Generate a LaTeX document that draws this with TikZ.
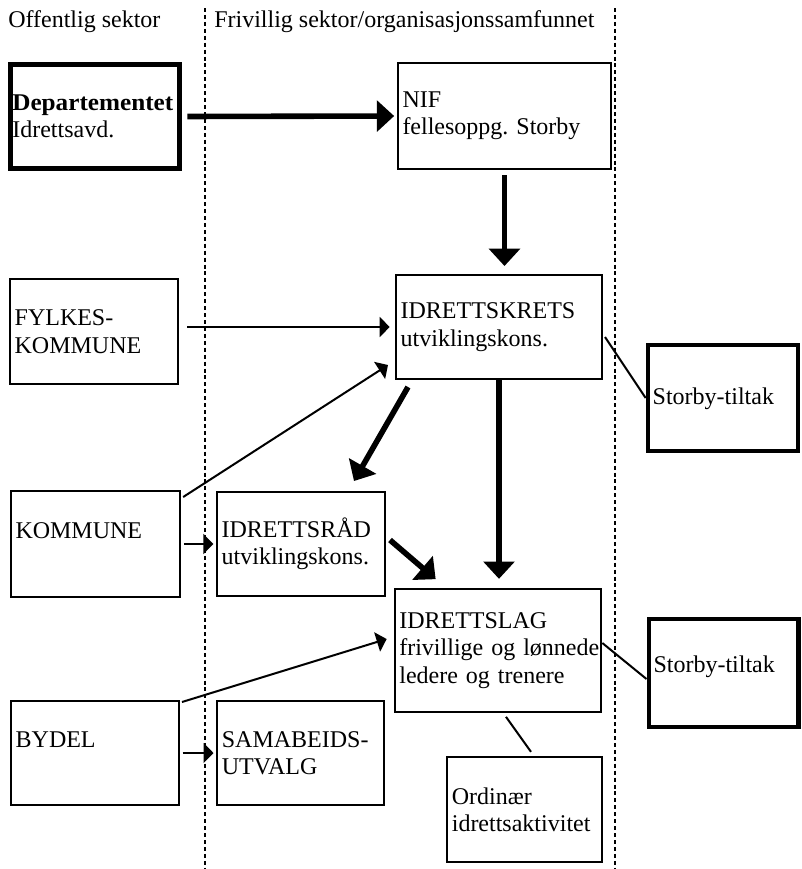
\documentclass[tikz,border=0pt]{standalone}
\usepackage{fontspec}
\setmainfont{Liberation Serif}
\usepackage{tikz}
\usetikzlibrary{positioning,%
  arrows.meta,%
  calc
}
\frenchspacing

\begin{document}
\begin{tikzpicture}
            [x=0.75pt,y=-0.75pt,
             every node/.style={font=\fontsize{18}{20.5}\selectfont},
             box/.style={draw,line width=1.5pt,align=left,inner xsep=3.5pt,inner ysep=0pt},
             heavybox/.style={box,line width=3.5pt},
             thinarrow/.style={line width=1.5pt,-{Triangle[length=7.5pt,width=15pt]}},
             thickarrow/.style={line width=4.2pt,-{Triangle[length=13pt,width=23pt]}},
             tie/.style={line width=1.5pt},
             sectorline/.style={line width=1.7pt,dash pattern=on 3pt off 2.2pt}]

            \useasboundingbox (0,0) rectangle (802,869);

            \foreach \sx in {205,615} {
                \draw[sectorline] (\sx,8) -- (\sx,869);
            }
            \node[anchor=west,inner sep=0pt] (offentlig) at (8,22) {Offentlig sektor};
            \node[anchor=west,inner sep=0pt] (frivillig) at (214,22) {Frivillig sektor/organisasjonssamfunnet};

            \node[heavybox,inner xsep=1.5pt,text width=124pt,minimum height=78pt] (dep) at (95,116.5) {\scalebox{1.05}[1]{\textbf{Departementet}}\\Idrettsavd.};
            \node[box,text width=153pt,minimum height=79.5pt] (nif) at (504.5,116) {NIF\\fellesoppg. Storby};
            \node[box,text width=119pt,minimum height=79pt] (fylke) at (94,331.5) {FYLKES-\\KOMMUNE};
            \node[box,text width=147.5pt,minimum height=78pt] (krets) at (499,327) {IDRETTSKRETS\\utviklingskons.};
            \node[heavybox,text width=105.5pt,minimum height=79.5pt] (storby1) at (723,398) {Storby-tiltak\\[-17pt]\mbox{}};
            \node[box,text width=120pt,minimum height=79.5pt] (kommune) at (95.5,544) {KOMMUNE\\\mbox{}};
            \node[box,text width=119pt,minimum height=78pt] (raad) at (301,544) {IDRETTSRÅD\\utviklingskons.};
            \node[box,text width=148pt,minimum height=92pt] (lag) at (498,650.5) {IDRETTSLAG\\frivillige~og~lønnede\\ledere og trenere};
            \node[heavybox,text width=105pt,minimum height=81pt] (storby2) at (723.5,673) {Storby-tiltak\\[-7pt]\mbox{}};
            \node[box,text width=119pt,minimum height=78pt] (bydel) at (95,753) {BYDEL\\\mbox{}};
            \node[box,text width=118pt,minimum height=78pt] (samab) at (300.5,753) {SAMABEIDS-\\UTVALG};
            \node[box,text width=109pt,minimum height=79pt] (ordin) at (524.5,809.5) {Ordinær\\idrettsaktivitet};

            \draw[thickarrow,shorten <=4pt,shorten >=2pt] (dep.east) -- (nif.west);
            \draw[thickarrow,shorten <=4pt,shorten >=6pt] (nif.south) -- (krets.north -| nif.south);
            \draw[thinarrow,shorten <=6pt,shorten >=4pt] (krets.west -| fylke.east) -- (krets.west);
            \draw[thinarrow] ([shift={(2,7)}]kommune.north east) -- ([shift={(-7,-15)}]krets.south west);
            \draw[thickarrow] ([shift={(13,7)}]krets.south west) -- ([shift={(-32,-10)}]raad.north east);
            \draw[thickarrow,shorten >=7pt] (krets.south) -- (lag.north -| krets.south);
            \draw[thinarrow,shorten <=2pt,shorten >=2pt] (kommune) -- (raad);
            \draw[thickarrow] ([shift={(4,-4)}]raad.east) -- ([shift={(42,-9)}]lag.north west);
            \draw[thinarrow] ([shift={(2,2)}]bydel.north east) -- ([shift={(-7,-11.5)}]lag.west);
            \draw[thinarrow,shorten <=2pt,shorten >=2pt] (bydel) -- (samab);

            \draw[tie] ([shift={(2,10)}]krets.east) -- (storby1.west);
            \draw[tie] ([shift={(0,-7.5)}]lag.east) -- ([shift={(0,6)}]storby2.west);
            \draw[tie] ([shift={(8,4)}]lag.south) -- ([shift={(6.5,-4)}]ordin.north);
        \end{tikzpicture}
\end{document}
